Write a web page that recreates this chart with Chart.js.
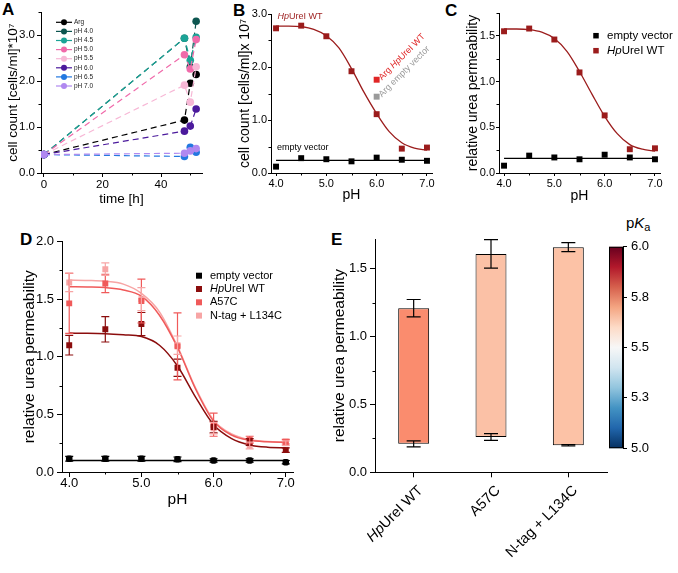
<!DOCTYPE html>
<html>
<head>
<meta charset="utf-8">
<script src="https://cdn.jsdelivr.net/npm/chart.js@4.4.1/dist/chart.umd.min.js"></script>
<style>
  body { margin: 0; width: 678px; height: 573px; background: #fff; position: relative; overflow: hidden;
         font-family: 'Liberation Sans', Arial, sans-serif; }
  canvas { position: absolute; }
  .tag { position: absolute; font-weight: bold; font-size: 17px; line-height: 1; }
  #pka { position: absolute; left: 626px; top: 215px; font-size: 15px; line-height: 1; }
  #pka sub { font-size: 11px; vertical-align: -3px; }
</style>
</head>
<body>
<div class="tag" style="left:2px;top:1px">A</div>
<div class="tag" style="left:233px;top:2px">B</div>
<div class="tag" style="left:445px;top:2px">C</div>
<div class="tag" style="left:20px;top:231px">D</div>
<div class="tag" style="left:331px;top:231px">E</div>
<div id="pka">p<i>K</i><sub>a</sub></div>

<canvas id="chartA" width="212" height="207" style="left:5px;top:0px"></canvas>
<canvas id="chartB" width="207" height="204" style="left:237px;top:0px"></canvas>
<canvas id="chartC" width="213" height="205" style="left:465px;top:0px"></canvas>
<canvas id="chartD" width="285" height="279" style="left:20px;top:230px"></canvas>
<canvas id="chartE" width="281" height="345" style="left:330px;top:228px"></canvas>
<canvas id="chartBar" width="73" height="225" style="left:605px;top:235px"></canvas>

<script>
// ---- panel A: growth over time ----
const timeH = [0, 48, 50, 52];
const growthNames = ['Arg', 'pH 4.0', 'pH 4.5', 'pH 5.0', 'pH 5.5', 'pH 6.0', 'pH 6.5', 'pH 7.0'];
const growthArg  = [0.40, 1.15, 1.95, 2.14];
const growthPh40 = [0.40, 2.93, 2.31, 3.30];
const growthPh45 = [0.40, 2.93, 2.45, 2.95];
const growthPh50 = [0.40, 2.57, 2.26, 2.90];
const growthPh55 = [0.40, 1.91, 1.54, 2.31];
const growthPh60 = [0.40, 0.91, 1.02, 1.39];
const growthPh65 = [0.40, 0.36, 0.56, 0.45];
const growthPh70 = [0.40, 0.43, 0.48, 0.53];
const aTimeTicks = [0, 20, 40];
const aCountTicks = [0, 1, 2, 3];

// ---- panel B: cell count vs pH ----
const phValues = [4.0, 4.5, 5.0, 5.5, 6.0, 6.5, 7.0];
const bWt    = [2.73, 2.78, 2.58, 1.92, 1.11, 0.46, 0.48];
const bEmpty = [0.12, 0.28, 0.26, 0.22, 0.29, 0.25, 0.23];
const bArgPh = [6.0];
const bArgWt = [1.76];
const bArgEmpty = [1.44];
const fitPh = [4.0, 4.25, 4.5, 4.75, 5.0, 5.25, 5.5, 5.75, 6.0, 6.25, 6.5, 6.75, 7.0];
const bFitWt = [2.77, 2.77, 2.76, 2.71, 2.59, 2.36, 1.97, 1.52, 1.12, 0.78, 0.57, 0.47, 0.43];
const flatPh = [4.0, 7.0];
const bFitEmpty = [0.24, 0.24];
const bCountTicks = [0, 1, 2, 3];
const phTicks = [4, 5, 6, 7];

// ---- panel C: relative urea permeability ----
const cWt    = [1.55, 1.58, 1.46, 1.10, 0.63, 0.26, 0.27];
const cEmpty = [0.08, 0.19, 0.17, 0.15, 0.20, 0.17, 0.15];
const cFitWt = [1.575, 1.575, 1.568, 1.54, 1.47, 1.33, 1.11, 0.86, 0.62, 0.43, 0.31, 0.26, 0.24];
const cFitEmpty = [0.16, 0.16];
const cPermTicks = [0, 0.5, 1.0, 1.5];

// ---- panel D: mutants ----
const dEmpty    = [0.115, 0.115, 0.115, 0.11, 0.10, 0.10, 0.085];
const dEmptyErr = [0.02, 0.02, 0.02, 0.02, 0.015, 0.015, 0.015];
const dWt       = [1.10, 1.238, 1.284, 0.905, 0.39, 0.26, 0.19];
const dWtErr    = [0.085, 0.11, 0.10, 0.075, 0.05, 0.03, 0.02];
const dA57c     = [1.463, 1.636, 1.483, 1.09, 0.41, 0.28, 0.263];
const dA57cErr  = [0.26, 0.08, 0.19, 0.29, 0.10, 0.03, 0.02];
const dNtag     = [1.645, 1.76, 1.50, 1.10, 0.38, 0.23, 0.25];
const dNtagErr  = [0.08, 0.055, 0.10, 0.08, 0.05, 0.03, 0.02];
const dFitWt    = [1.205, 1.204, 1.20, 1.19, 1.175, 1.10, 0.92, 0.65, 0.41, 0.29, 0.235, 0.215, 0.21];
const dFitA57c  = [1.607, 1.605, 1.60, 1.58, 1.526, 1.36, 1.08, 0.72, 0.44, 0.32, 0.275, 0.262, 0.258];
const dFitNtag  = [1.665, 1.662, 1.655, 1.63, 1.55, 1.39, 1.09, 0.73, 0.45, 0.33, 0.28, 0.265, 0.26];
const dFitEmpty = [0.10, 0.10];
const dPermTicks = [0, 0.5, 1.0, 1.5, 2.0];

// ---- panel E: permeability range and pKa ----
const eLabels  = ['HpUreI WT', 'A57C', 'N-tag + L134C'];
const eLow     = [0.21, 0.26, 0.20];
const eLowErr  = [0.022, 0.025, 0.005];
const eHigh    = [1.21, 1.61, 1.66];
const eHighErr = [0.064, 0.105, 0.033];
const ePermTicks = [0, 0.5, 1.0, 1.5];
const pkaTicks = [5.0, 5.25, 5.5, 5.75, 6.0];

const FONT = "'Liberation Sans', Arial, sans-serif";
Chart.defaults.font.family = FONT;
Chart.defaults.color = '#000';

const pts = (xs, ys) => xs.map((x, i) => ({ x: x, y: ys[i] }));
const fix1 = v => Number(v).toFixed(1);

// writes "Hp" in italics, the rest upright
function drawRich(ctx, text, x, y, size, color, align) {
  const parts = text.split(/(Hp)(?=UreI)/).filter(s => s.length);
  const fontOf = p => (p === 'Hp' ? 'italic ' : '') + size + 'px ' + FONT;
  let w = 0;
  parts.forEach(p => { ctx.font = fontOf(p); w += ctx.measureText(p).width; });
  let cx = align === 'right' ? x - w : x;
  ctx.fillStyle = color;
  ctx.textAlign = 'left';
  ctx.textBaseline = 'middle';
  parts.forEach(p => { ctx.font = fontOf(p); ctx.fillText(p, cx, y); cx += ctx.measureText(p).width; });
}

function axis(o) {
  const horiz = o.pos === 'bottom';
  const ax = {
    type: o.type || 'linear',
    position: o.pos,
    offset: !!o.offset,
    border: { display: true, color: '#000', width: 1 },
    grid: { display: true, drawOnChartArea: false, drawTicks: true, tickLength: o.tick || 4,
            color: '#000', tickColor: '#000', offset: false },
    ticks: { display: o.labels !== false, font: { size: o.size }, color: '#000',
             padding: o.pad == null ? 2 : o.pad, maxRotation: 0, autoSkip: false },
    title: { display: !!o.title, text: o.title || '', font: { size: o.tsize }, padding: 0, color: '#000' },
    afterFit: s => { if (horiz) s.height = o.fit; else s.width = o.fit; }
  };
  if (o.min != null) ax.min = o.min;
  if (o.max != null) ax.max = o.max;
  if (o.fmt) ax.ticks.callback = o.fmt;
  if (o.ticks) ax.afterBuildTicks = s => { s.ticks = o.ticks.map(v => ({ value: v })); };
  return ax;
}

function minorTicks(steps) {
  return {
    id: 'minorTicks',
    afterDraw(chart) {
      const ctx = chart.ctx;
      ctx.save();
      ctx.strokeStyle = '#000';
      ctx.lineWidth = 1;
      Object.keys(steps).forEach(id => {
        const s = chart.scales[id], step = steps[id];
        const majors = s.ticks.map(t => t.value);
        for (let v = Math.ceil(s.min / step - 1e-9) * step; v <= s.max + 1e-9; v += step) {
          if (majors.some(m => Math.abs(m - v) < 1e-6)) continue;
          const p = Math.round(s.getPixelForValue(v)) + 0.5;
          ctx.beginPath();
          if (s.isHorizontal()) { ctx.moveTo(p, s.top); ctx.lineTo(p, s.top + 2.5); }
          else { ctx.moveTo(s.right, p); ctx.lineTo(s.right - 2.5, p); }
          ctx.stroke();
        }
      });
      ctx.restore();
    }
  };
}

function errorBars(cap) {
  return {
    id: 'errorBars',
    afterDatasetsDraw(chart) {
      const ctx = chart.ctx, ys = chart.scales.y;
      chart.data.datasets.forEach((ds, i) => {
        if (!ds.err) return;
        ctx.save();
        ctx.strokeStyle = ds.borderColor;
        ctx.lineWidth = 1.2;
        chart.getDatasetMeta(i).data.forEach((pt, j) => {
          const v = ds.data[j].y, e = ds.err[j];
          const t = ys.getPixelForValue(v + e), b = ys.getPixelForValue(v - e);
          ctx.beginPath();
          ctx.moveTo(pt.x, t); ctx.lineTo(pt.x, b);
          ctx.moveTo(pt.x - cap, t); ctx.lineTo(pt.x + cap, t);
          ctx.moveTo(pt.x - cap, b); ctx.lineTo(pt.x + cap, b);
          ctx.stroke();
        });
        ctx.restore();
      });
    }
  };
}

function squareLegend(dx, dy, step, size, sq) {
  return {
    id: 'squareLegend',
    afterDraw(chart) {
      const ctx = chart.ctx, a = chart.chartArea;
      let row = 0;
      chart.data.datasets.forEach(ds => {
        if (!ds.legend) return;
        const x = a.left + dx, y = a.top + dy + row * step;
        ctx.fillStyle = ds.backgroundColor;
        ctx.fillRect(x - sq / 2, y - sq / 2, sq, sq);
        drawRich(ctx, ds.label, x + 11, y, size, '#000');
        row++;
      });
    }
  };
}

const base = (pad) => ({
  responsive: false,
  animation: false,
  events: [],
  layout: { padding: pad },
  plugins: { legend: { display: false }, tooltip: { enabled: false } }
});

// ================= A =================
const growthValues = [growthArg, growthPh40, growthPh45, growthPh50, growthPh55, growthPh60, growthPh65, growthPh70];
const growthColors = ['#000000', '#0d5650', '#1ba396', '#f06aaa', '#f7b8d6', '#4b1a9c', '#2378e0', '#b088f0'];

const legendA = {
  id: 'legendA',
  afterDraw(chart) {
    const ctx = chart.ctx, a = chart.chartArea;
    chart.data.datasets.forEach((ds, i) => {
      const x = a.left + 15, y = a.top + 10.3 + i * 9.1;
      ctx.save();
      ctx.strokeStyle = ds.borderColor;
      ctx.lineWidth = 1.2;
      ctx.beginPath(); ctx.moveTo(x, y); ctx.lineTo(x + 16, y); ctx.stroke();
      ctx.fillStyle = ds.borderColor;
      ctx.beginPath(); ctx.arc(x + 8, y, 3, 0, Math.PI * 2); ctx.fill();
      ctx.fillStyle = '#222';
      ctx.font = '6.5px ' + FONT;
      ctx.textBaseline = 'middle';
      ctx.fillText(ds.label, x + 18, y);
      ctx.restore();
    });
  }
};

new Chart(document.getElementById('chartA'), {
  type: 'scatter',
  data: {
    datasets: growthNames.map((name, i) => ({
      label: name,
      data: pts(timeH, growthValues[i]),
      showLine: true,
      borderColor: growthColors[i],
      backgroundColor: growthColors[i],
      borderWidth: 1.2,
      borderDash: [6, 4],
      pointRadius: 3.8,
      pointBorderWidth: 0,
      order: 10 - i
    }))
  },
  options: Object.assign(base({ top: 12, right: 15, left: 0, bottom: 0 }), {
    scales: {
      x: axis({ pos: 'bottom', min: -1, max: 54, ticks: aTimeTicks, size: 11.5, title: 'time [h]', tsize: 13.5, fit: 34, tick: 4, pad: 1 }),
      y: axis({ pos: 'left', min: 0, max: 3.5, ticks: aCountTicks, size: 11.5, fmt: fix1, title: 'cell count [cells/ml]*10\u2077', tsize: 13.5, fit: 36, tick: 4, pad: 2 })
    }
  }),
  plugins: [minorTicks({ x: 10, y: 0.5 }), legendA]
});

// ================= B =================
const WT_DARK = '#9b1c1c';
const labelsB = {
  id: 'labelsB',
  afterDraw(chart) {
    const ctx = chart.ctx, xs = chart.scales.x, ys = chart.scales.y;
    drawRich(ctx, 'HpUreI WT', xs.getPixelForValue(4.03), ys.getPixelForValue(2.96), 9, WT_DARK);
    drawRich(ctx, 'empty vector', xs.getPixelForValue(4.02), ys.getPixelForValue(0.48), 9, '#000');
    [['Arg HpUreI WT', bArgWt[0], '#e02626'], ['Arg empty vector', bArgEmpty[0], '#9a9a9a']].forEach(r => {
      ctx.save();
      ctx.translate(xs.getPixelForValue(6.07), ys.getPixelForValue(r[1]) - 1);
      ctx.rotate(-Math.PI / 4);
      drawRich(ctx, r[0], 0, 0, 9, r[2]);
      ctx.restore();
    });
  }
};

new Chart(document.getElementById('chartB'), {
  type: 'scatter',
  data: {
    datasets: [
      { data: pts(fitPh, bFitWt), showLine: true, pointRadius: 0, borderColor: WT_DARK, borderWidth: 1.3, cubicInterpolationMode: 'monotone' },
      { data: pts(flatPh, bFitEmpty), showLine: true, pointRadius: 0, borderColor: '#000', borderWidth: 1.2 },
      { data: pts(phValues, bWt), pointStyle: 'rect', pointRadius: 4.2, backgroundColor: WT_DARK, borderWidth: 0 },
      { data: pts(phValues, bEmpty), pointStyle: 'rect', pointRadius: 4.2, backgroundColor: '#000', borderWidth: 0 },
      { data: pts(bArgPh, bArgWt), pointStyle: 'rect', pointRadius: 4.2, backgroundColor: '#e02626', borderWidth: 0 },
      { data: pts(bArgPh, bArgEmpty), pointStyle: 'rect', pointRadius: 4.2, backgroundColor: '#9a9a9a', borderWidth: 0 }
    ]
  },
  options: Object.assign(base({ top: 14, right: 12, left: 0, bottom: 0 }), {
    scales: {
      x: axis({ pos: 'bottom', min: 3.9, max: 7.1, ticks: phTicks, size: 11, fmt: fix1, title: 'pH', tsize: 14, fit: 31, tick: 3, pad: 1 }),
      y: axis({ pos: 'left', min: 0, max: 3.0, ticks: bCountTicks, size: 11, fmt: fix1, title: 'cell count [cells/ml]x 10\u2077', tsize: 14, fit: 34, tick: 3, pad: 1 })
    }
  }),
  plugins: [minorTicks({ x: 0.5, y: 0.5 }), labelsB]
});

// ================= C =================
new Chart(document.getElementById('chartC'), {
  type: 'scatter',
  data: {
    datasets: [
      { data: pts(fitPh, cFitWt), showLine: true, pointRadius: 0, borderColor: WT_DARK, borderWidth: 1.3, cubicInterpolationMode: 'monotone' },
      { data: pts(flatPh, cFitEmpty), showLine: true, pointRadius: 0, borderColor: '#000', borderWidth: 1.2 },
      { label: 'empty vector', legend: true, data: pts(phValues, cEmpty), pointStyle: 'rect', pointRadius: 4.2, backgroundColor: '#000', borderWidth: 0 },
      { label: 'HpUreI WT', legend: true, data: pts(phValues, cWt), pointStyle: 'rect', pointRadius: 4.2, backgroundColor: WT_DARK, borderWidth: 0 }
    ]
  },
  options: Object.assign(base({ top: 13, right: 18, left: 0, bottom: 0 }), {
    scales: {
      x: axis({ pos: 'bottom', min: 3.9, max: 7.1, ticks: phTicks, size: 11, fmt: fix1, title: 'pH', tsize: 14, fit: 32, tick: 3, pad: 1 }),
      y: axis({ pos: 'left', min: 0, max: 1.75, ticks: cPermTicks, size: 11, fmt: fix1, title: 'relative urea permeability', tsize: 14, fit: 34, tick: 3, pad: 1 })
    }
  }),
  plugins: [minorTicks({ x: 0.5, y: 0.25 }), squareLegend(97, 22.7, 15, 11.5, 5.5)]
});

// ================= D =================
const D_WT = '#8b0d0d', D_A57C = '#f05a5a', D_NTAG = '#f7a5a5';
new Chart(document.getElementById('chartD'), {
  type: 'scatter',
  data: {
    datasets: [
      { label: 'empty vector', legend: true, data: pts(phValues, dEmpty), err: dEmptyErr, pointStyle: 'rectRounded', pointRadius: 3.8, backgroundColor: '#000', borderColor: '#000', borderWidth: 0 },
      { label: 'HpUreI WT', legend: true, data: pts(phValues, dWt), err: dWtErr, pointStyle: 'rect', pointRadius: 4.2, backgroundColor: D_WT, borderColor: D_WT, borderWidth: 0 },
      { label: 'A57C', legend: true, data: pts(phValues, dA57c), err: dA57cErr, pointStyle: 'rect', pointRadius: 4.2, backgroundColor: D_A57C, borderColor: D_A57C, borderWidth: 0 },
      { label: 'N-tag + L134C', legend: true, data: pts(phValues, dNtag), err: dNtagErr, pointStyle: 'rect', pointRadius: 4.2, backgroundColor: D_NTAG, borderColor: D_NTAG, borderWidth: 0 },
      { data: pts(flatPh, dFitEmpty), showLine: true, pointRadius: 0, borderColor: '#000', borderWidth: 1.5 },
      { data: pts(fitPh, dFitWt), showLine: true, pointRadius: 0, borderColor: D_WT, borderWidth: 1.5, cubicInterpolationMode: 'monotone' },
      { data: pts(fitPh, dFitA57c), showLine: true, pointRadius: 0, borderColor: D_A57C, borderWidth: 1.5, cubicInterpolationMode: 'monotone' },
      { data: pts(fitPh, dFitNtag), showLine: true, pointRadius: 0, borderColor: D_NTAG, borderWidth: 1.5, cubicInterpolationMode: 'monotone' }
    ]
  },
  options: Object.assign(base({ top: 11.5, right: 12, left: 0, bottom: 0 }), {
    scales: {
      x: axis({ pos: 'bottom', min: 3.9, max: 7.1, ticks: phTicks, size: 13, fmt: fix1, title: 'pH', tsize: 15.5, fit: 37, tick: 5, pad: -1 }),
      y: axis({ pos: 'left', min: 0, max: 2.0, ticks: dPermTicks, size: 13, fmt: fix1, title: 'relative urea permeability', tsize: 15.5, fit: 42, tick: 5, pad: 3 })
    }
  }),
  plugins: [minorTicks({ x: 0.5, y: 0.25 }), errorBars(4), squareLegend(137, 34.2, 13.3, 11, 6)]
});

// ================= E =================
const eColors = ['#fa8c6e', '#fbc1a6', '#fcc2a6'];
const extrasE = {
  id: 'extrasE',
  afterDraw(chart) {
    const ctx = chart.ctx, ys = chart.scales.y, xs = chart.scales.x;
    ctx.save();
    ctx.strokeStyle = '#000';
    ctx.lineWidth = 1.2;
    chart.getDatasetMeta(0).data.forEach((bar, i) => {
      [[eHigh[i], eHighErr[i]], [eLow[i], eLowErr[i]]].forEach(r => {
        const t = ys.getPixelForValue(r[0] + r[1]), b = ys.getPixelForValue(r[0] - r[1]);
        ctx.beginPath();
        ctx.moveTo(bar.x, t); ctx.lineTo(bar.x, b);
        ctx.moveTo(bar.x - 7, t); ctx.lineTo(bar.x + 7, t);
        ctx.moveTo(bar.x - 7, b); ctx.lineTo(bar.x + 7, b);
        ctx.stroke();
      });
    });
    ctx.restore();
    eLabels.forEach((lab, i) => {
      ctx.save();
      ctx.translate(xs.getPixelForTick(i) + 7, xs.top + 16);
      ctx.rotate(-Math.PI / 4);
      drawRich(ctx, lab, 0, 0, 14.5, '#000', 'right');
      ctx.restore();
    });
  }
};

new Chart(document.getElementById('chartE'), {
  type: 'bar',
  data: {
    labels: eLabels,
    datasets: [{
      data: eLow.map((l, i) => [l, eHigh[i]]),
      backgroundColor: eColors,
      borderColor: '#000',
      borderWidth: 1,
      borderSkipped: false,
      categoryPercentage: 1,
      barPercentage: 0.4
    }]
  },
  options: Object.assign(base({ top: 11, right: 4, left: 0, bottom: 0 }), {
    scales: {
      x: axis({ type: 'category', pos: 'bottom', offset: true, labels: false, fit: 100.7, tick: 5 }),
      y: axis({ pos: 'left', min: 0, max: 1.72, ticks: ePermTicks, size: 13, fmt: fix1, title: 'relative urea permeability', tsize: 15.5, fit: 45, tick: 5, pad: 3 })
    }
  }),
  plugins: [minorTicks({ y: 0.25 }), extrasE]
});

// ================= colour bar =================
const rdbu = ['#053061', '#2166ac', '#4393c3', '#92c5de', '#d1e5f0', '#f7f7f7', '#fddbc7', '#f4a582', '#d6604d', '#b2182b', '#67001f'];
const gradientBar = {
  id: 'gradientBar',
  afterDraw(chart) {
    const ctx = chart.ctx, a = chart.chartArea;
    const g = ctx.createLinearGradient(0, a.bottom, 0, a.top);
    rdbu.forEach((c, i) => g.addColorStop(i / (rdbu.length - 1), c));
    ctx.save();
    ctx.fillStyle = g;
    ctx.fillRect(a.left, a.top, a.right - a.left, a.bottom - a.top);
    ctx.strokeStyle = '#000';
    ctx.lineWidth = 1;
    ctx.strokeRect(a.left + 0.5, a.top + 0.5, a.right - a.left - 1, a.bottom - a.top - 1);
    ctx.restore();
  }
};

new Chart(document.getElementById('chartBar'), {
  type: 'scatter',
  data: { datasets: [] },
  options: Object.assign(base({ top: 10, right: 0, left: 4, bottom: 10 }), {
    scales: {
      x: { type: 'linear', display: false, min: 0, max: 1 },
      y: axis({ pos: 'right', min: 5, max: 6, ticks: pkaTicks, size: 13, fmt: fix1, fit: 55, tick: 4, pad: 4 })
    }
  }),
  plugins: [gradientBar]
});
</script>
</body>
</html>
